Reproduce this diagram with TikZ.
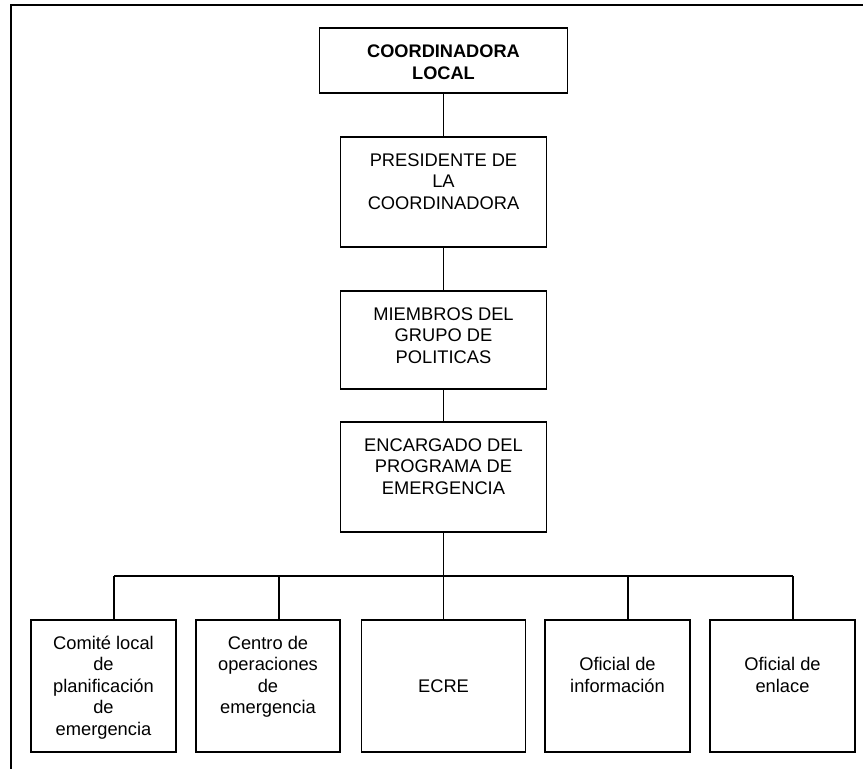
\documentclass[tikz,border=0pt]{standalone}
\usepackage{fontspec}
\setmainfont{Liberation Sans}
\newcommand\Tst{\rule{0pt}{17pt}}
\begin{document}
\begin{tikzpicture}[x=1pt,y=-1pt,
  box/.style={draw=black, line width=1.8pt, rectangle, inner sep=0pt},
  txt/.style={font=\fontsize{18.3}{21.5}\selectfont, align=center, inner sep=0pt, anchor=north},
  conn/.style={line width=1.8pt},
  frameline/.style={line width=2.6pt}]
\useasboundingbox (0,0) rectangle (863,769);
% outer frame
\draw[frameline] (11,769) -- (11,5) -- (863,5);
% upper boxes
\node[box, minimum width=248pt, minimum height=65pt] (top) at (443.5,60.5) {};
\node[box, minimum width=206pt, minimum height=110pt] (pres) at (443.5,192) {};
\node[box, minimum width=206pt, minimum height=98pt] (miem) at (443.5,340) {};
\node[box, minimum width=206pt, minimum height=110pt] (enc) at (443.5,477) {};
% lower boxes
\node[box, minimum width=145pt, minimum height=132pt] (b1) at (103.5,686) {};
\node[box, minimum width=144pt, minimum height=132pt] (b2) at (268,686) {};
\node[box, minimum width=164pt, minimum height=132pt] (b3) at (443.5,686) {};
\node[box, minimum width=145pt, minimum height=132pt] (b4) at (617.5,686) {};
\node[box, minimum width=145pt, minimum height=132pt] (b5) at (782.5,686) {};
% texts
\node[txt, font=\fontsize{18.2}{22}\selectfont\bfseries] (ttop) at (443.5,40) {\Tst COORDINADORA\\LOCAL};
\node[txt] (tpres) at (443.5,149) {\Tst PRESIDENTE DE\\LA\\COORDINADORA};
\node[txt] (tmiem) at (443.5,303) {\Tst MIEMBROS DEL\\GRUPO DE\\POLITICAS};
\node[txt] (tenc) at (443.5,434) {\Tst ENCARGADO DEL\\PROGRAMA DE\\EMERGENCIA};
\node[txt] (t1) at (103.5,632) {\Tst Comité local\\de\\planificación\\de\\emergencia};
\node[txt] (t2) at (268,632) {\Tst Centro de\\operaciones\\de\\emergencia};
\node[txt] (t3) at (443.5,675) {\Tst ECRE};
\node[txt] (t4) at (617.5,653.5) {\Tst Oficial de\\información};
\node[txt] (t5) at (782.5,653.5) {\Tst Oficial de\\enlace};
% connectors
\draw[conn] (top.south) -- (pres.north);
\draw[conn] (pres.south) -- (miem.north);
\draw[conn] (miem.south) -- (enc.north);
\coordinate (bus1) at (114,576);
\coordinate (bus2) at (279,576);
\coordinate (bus3) at (443.5,576);
\coordinate (bus4) at (628,576);
\coordinate (bus5) at (793,576);
\draw[conn] (enc.south) -- (bus3);
\draw[conn] (bus1) -- (bus5);
\foreach \i in {1,...,5} {\draw[conn] (bus\i) -- (bus\i |- b\i.north);}
\end{tikzpicture}
\end{document}
